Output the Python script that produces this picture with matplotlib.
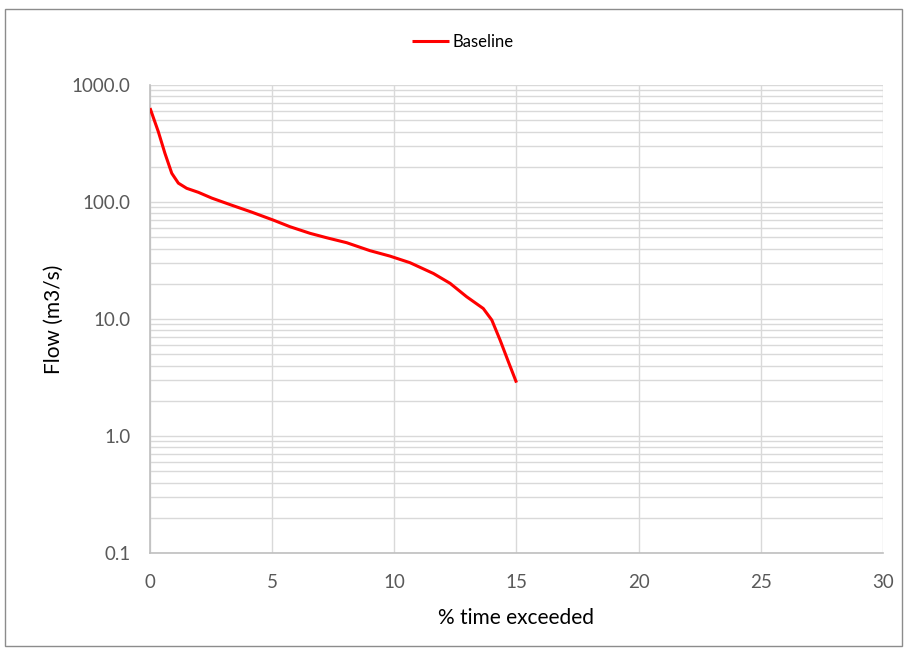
import matplotlib
matplotlib.use("Agg")
import matplotlib.pyplot as plt
from matplotlib.patches import Rectangle
from matplotlib.ticker import FixedLocator, LogLocator, NullFormatter

plt.rcParams["font.family"] = ["Lato", "DejaVu Sans"]

# flow duration curve
pct_exceeded = [0.0, 0.34, 0.61, 0.89, 1.16, 1.50, 1.98, 2.53, 3.34, 4.16, 5.05,
                5.73, 6.55, 7.23, 8.05, 9.0, 9.82, 10.64, 11.60, 12.28, 12.96,
                13.64, 13.99, 14.33, 14.67, 15.0]
flow = [635, 399, 261, 176, 145, 131, 121, 108, 94, 82, 70,
        61.5, 54, 49.5, 44.9, 38.4, 34.5, 30.3, 24.5, 20.2, 15.5,
        12.3, 9.8, 6.6, 4.3, 2.86]

x_ticks = [0, 5, 10, 15, 20, 25, 30]
y_ticks = [0.1, 1.0, 10.0, 100.0, 1000.0]

fig = plt.figure(figsize=(9.07, 6.5), dpi=100)
ax = fig.add_axes([0.1654, 0.1492, 0.8081, 0.7200])

ax.plot(pct_exceeded, flow, color="#FF0000", lw=2.2, label="Baseline",
        solid_joinstyle="round", solid_capstyle="butt", zorder=3)

ax.set_yscale("log")
ax.set_xlim(0, 30)
ax.set_ylim(0.1, 1000)
ax.xaxis.set_major_locator(FixedLocator(x_ticks))
ax.yaxis.set_major_locator(FixedLocator(y_ticks))
ax.yaxis.set_minor_locator(LogLocator(base=10, subs=range(2, 10)))
ax.yaxis.set_minor_formatter(NullFormatter())
ax.set_yticklabels([f"{v:.1f}" for v in y_ticks])

ax.grid(True, which="major", color="#D9D9D9", lw=1.0)
ax.grid(True, which="minor", axis="y", color="#D9D9D9", lw=1.0)
ax.set_axisbelow(True)
for s in ["top", "right"]:
    ax.spines[s].set_visible(False)
for s in ["left", "bottom"]:
    ax.spines[s].set_color("#BFBFBF")
    ax.spines[s].set_linewidth(1.2)
ax.tick_params(which="both", length=0, colors="#595959", labelsize=13.5)
ax.tick_params(axis="x", pad=15)
ax.tick_params(axis="y", pad=14)

ax.set_xlabel("% time exceeded", fontsize=15, color="#000000", labelpad=12)
ax.set_ylabel("Flow (m3/s)", fontsize=15, color="#000000", labelpad=6)

fig.legend(loc="center", bbox_to_anchor=(0.51, 0.935), frameon=False,
           fontsize=12, handlelength=2.2, handletextpad=0.2)

fig.patches.append(Rectangle((0.005, 0.006), 0.99, 0.98, transform=fig.transFigure,
                             fill=False, ec="#8C8C8C", lw=1.0))

fig.savefig("out.png", dpi=100)
